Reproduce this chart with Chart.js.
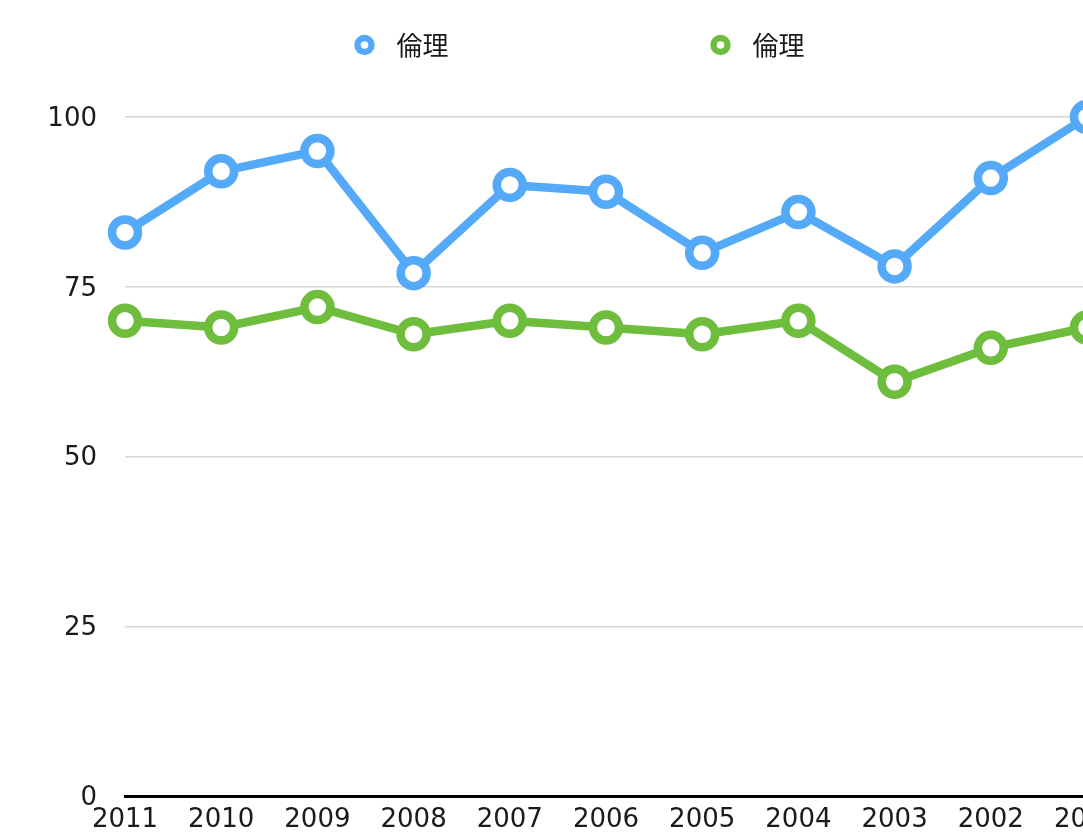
<!DOCTYPE html>
<html>
<head>
<meta charset="utf-8">
<script src="https://cdn.jsdelivr.net/npm/chart.js@4.4.0/dist/chart.umd.min.js"></script>
<style>
  html, body { margin: 0; padding: 0; background: #fff; overflow: hidden; }
  #wrap { position: relative; width: 1155px; height: 834px; }
</style>
</head>
<body>
<div id="wrap"><canvas id="c"></canvas></div>
<script>
const categories = ['2011', '2010', '2009', '2008', '2007', '2006', '2005', '2004', '2003', '2002', '2001'];
const seriesNames = ['倫理', '倫理'];
const seriesBlue = [83, 92, 95, 77, 90, 89, 80, 86, 78, 91, 100];
const seriesGreen = [70, 69, 72, 68, 70, 69, 68, 70, 61, 66, 69];
const yTicks = [0, 25, 50, 75, 100];

const BLUE = '#54a9f8';
const GREEN = '#6fbd3d';
const FONT = '"DejaVu Sans", "Noto Sans CJK JP", sans-serif';
const CJK_FONT = '"Noto Sans CJK JP", "Noto Sans", sans-serif';

const legendPlugin = {
  id: 'customLegend',
  afterDraw(chart) {
    const ctx = chart.ctx;
    ctx.save();
    ctx.font = '26px ' + CJK_FONT;
    ctx.textBaseline = 'middle';
    const items = chart.data.datasets.map(ds => ({ text: ds.label, color: ds.borderColor, w: 20 + 22 + ctx.measureText(ds.label).width }));
    const gap = 262;
    const total = items.reduce((s, it) => s + it.w, 0) + gap * (items.length - 1);
    let x = chart.width / 2 - total / 2 + 2;
    const y = 45;
    items.forEach(it => {
      ctx.beginPath();
      ctx.arc(x + 10, y, 7, 0, Math.PI * 2);
      ctx.fillStyle = '#fff';
      ctx.fill();
      ctx.lineWidth = 6.4;
      ctx.strokeStyle = it.color;
      ctx.stroke();
      ctx.fillStyle = '#1a1a1a';
      ctx.textAlign = 'left';
      ctx.fillText(it.text, x + 42, y);
      x += it.w + gap;
    });
    ctx.restore();
  }
};

const mkDataset = (label, data, color) => ({
  label,
  data,
  borderColor: color,
  backgroundColor: '#fff',
  borderWidth: 8.5,
  tension: 0,
  fill: false,
  pointRadius: 13,
  pointHoverRadius: 13,
  pointBorderWidth: 8.5,
  pointBackgroundColor: '#fff',
  pointBorderColor: color,
  borderJoinStyle: 'round',
  clip: false
});

new Chart(document.getElementById('c'), {
  type: 'line',
  data: {
    labels: categories,
    datasets: [
      mkDataset(seriesNames[0], seriesBlue, BLUE),
      mkDataset(seriesNames[1], seriesGreen, GREEN)
    ]
  },
  options: {
    responsive: true,
    maintainAspectRatio: false,
    animation: false,
    layout: { padding: { top: 117, right: 68, bottom: 0, left: 0 } },
    plugins: {
      legend: { display: false },
      tooltip: { enabled: false }
    },
    scales: {
      x: {
        offset: false,
        grid: { display: false, drawTicks: false },
        border: { display: true, color: '#000', width: 3 },
        ticks: { color: '#1a1a1a', font: { family: FONT, size: 26 }, padding: 9, maxRotation: 0, autoSkip: false },
        afterFit(scale) { scale.height = 38; }
      },
      y: {
        min: 0,
        max: 100,
        afterBuildTicks(scale) { scale.ticks = yTicks.map(v => ({ value: v })); },
        grid: { color: '#d6d6d6', lineWidth: 1.5, drawTicks: true, tickLength: 28, tickColor: 'rgba(0,0,0,0)' },
        border: { display: false },
        ticks: { color: '#1a1a1a', font: { family: FONT, size: 26 }, padding: 0, labelOffset: 2 },
        afterFit(scale) { scale.width = 125; }
      }
    }
  },
  plugins: [legendPlugin]
});
</script>
</body>
</html>
